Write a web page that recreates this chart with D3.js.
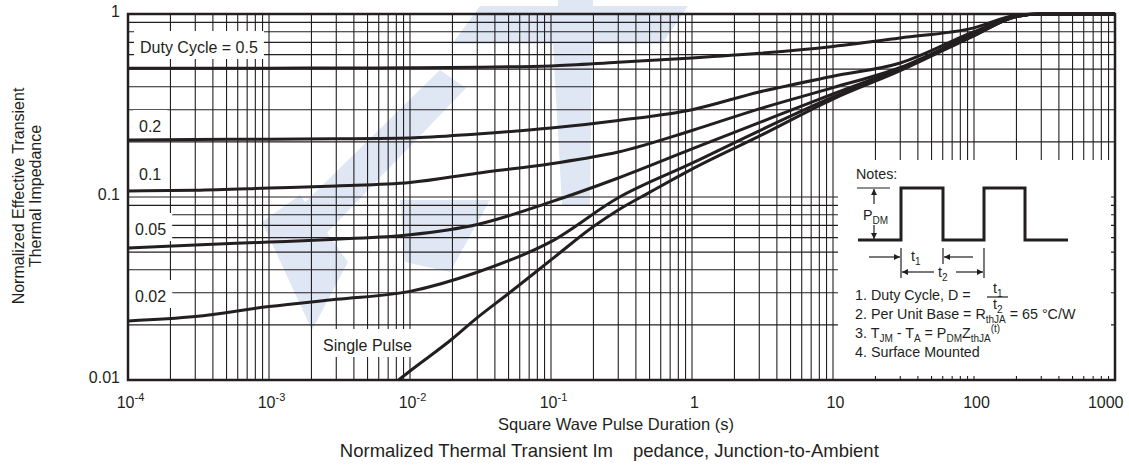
<!DOCTYPE html>
<html>
<head>
<meta charset="utf-8">
<script src="https://cdn.jsdelivr.net/npm/d3@7/dist/d3.min.js"></script>
<style>
  body { margin: 0; background: #fff; }
  svg { display: block; font-family: "Liberation Sans", Arial, sans-serif; }
</style>
</head>
<body>
<svg id="chart" width="1129" height="465"></svg>
<script>
// pulse duration (s) shared by the duty cycle curves
var pulseTimes = [1e-4, 3e-4, 1e-3, 3e-3, 1e-2, 3e-2, 0.1, 0.3, 1, 3, 10, 30, 100, 200, 300, 1000];
var duty05  = [0.505, 0.505, 0.506, 0.507, 0.508, 0.512, 0.52, 0.545, 0.575, 0.61, 0.665, 0.74, 0.84, 0.985, 1.0, 1.0];
var duty02  = [0.205, 0.206, 0.207, 0.208, 0.21, 0.221, 0.238, 0.262, 0.30, 0.375, 0.457, 0.54, 0.80, 0.975, 1.0, 1.0];
var duty01  = [0.108, 0.109, 0.112, 0.115, 0.12, 0.135, 0.152, 0.176, 0.231, 0.303, 0.396, 0.51, 0.78, 0.975, 1.0, 1.0];
var duty005 = [0.0526, 0.0547, 0.0567, 0.0588, 0.0622, 0.0708, 0.094, 0.127, 0.183, 0.255, 0.366, 0.505, 0.77, 0.97, 1.0, 1.0];
var duty002 = [0.021, 0.0222, 0.0252, 0.0276, 0.0305, 0.0388, 0.057, 0.099, 0.153, 0.23, 0.352, 0.50, 0.765, 0.97, 1.0, 1.0];

// single pulse starts at the bottom edge, so it has its own times
var singleTimes = [0.0083, 0.01, 0.02, 0.03, 0.05, 0.1, 0.2, 0.3, 0.5, 1, 3, 10, 30, 100, 200, 300, 1000];
var singlePulse = [0.01, 0.0112, 0.0168, 0.0219, 0.0297, 0.0453, 0.069, 0.085, 0.106, 0.142, 0.215, 0.343, 0.49, 0.76, 0.97, 1.0, 1.0];

var xTicks = [1e-4, 1e-3, 1e-2, 1e-1, 1, 10, 100, 1000];
var xTickBase = ["10", "10", "10", "10", "1", "10", "100", "1000"];
var xTickExp = ["-4", "-3", "-2", "-1", "", "", "", ""];
var yTicks = [0.01, 0.1, 1];
var yTickLabels = ["0.01", "0.1", "1"];

var ink = "#231f20";
var svg = d3.select("#chart");

var x = d3.scaleLog().domain([1e-4, 1000]).range([128, 1115]);
var y = d3.scaleLog().domain([0.01, 1]).range([380, 14]);

// faint logo watermark behind the grid
var watermark = [
  [[480,6],[558,6],[558,0],[593,0],[593,6],[688,6],[662,44],[452,44]],
  [[553,44],[592,44],[590,205],[562,205]],
  [[292,215],[440,70],[466,88],[322,238]],
  [[262,222],[300,195],[348,262],[312,330]],
  [[400,200],[490,200],[450,272],[405,262]]
];
svg.append("g").selectAll("polygon")
  .data(watermark)
  .enter().append("polygon")
  .attr("points", function(d) { return d.map(function(p) { return p.join(","); }).join(" "); })
  .attr("fill", "#dfe7f4");

// log grid
var gridX = [], gridY = [];
for (var e = -4; e < 3; e++) {
  for (var k = 1; k < 10; k++) gridX.push(k * Math.pow(10, e));
}
gridX.push(1000);
for (var e2 = -2; e2 < 0; e2++) {
  for (var k2 = 1; k2 < 10; k2++) gridY.push(k2 * Math.pow(10, e2));
}
gridY.push(1);

var grid = svg.append("g").attr("stroke", ink).attr("stroke-width", 1.1);
grid.selectAll("line.v").data(gridX).enter().append("line")
  .attr("class", "v")
  .attr("x1", function(d) { return x(d); }).attr("x2", function(d) { return x(d); })
  .attr("y1", 14).attr("y2", 380);
grid.selectAll("line.h").data(gridY).enter().append("line")
  .attr("class", "h")
  .attr("x1", 128).attr("x2", 1115)
  .attr("y1", function(d) { return y(d); }).attr("y2", function(d) { return y(d); });

// curve labels with white boxes that cut the grid
var curveLabels = [
  {text: "Duty Cycle = 0.5", x: 140, y: 53},
  {text: "0.2", x: 139, y: 132},
  {text: "0.1", x: 139, y: 180},
  {text: "0.05", x: 135, y: 235},
  {text: "0.02", x: 135, y: 302},
  {text: "Single Pulse", x: 323, y: 351}
];
var lab = svg.append("g");
curveLabels.forEach(function(d) {
  var g = lab.append("g");
  var t = g.append("text").attr("x", d.x).attr("y", d.y)
    .attr("font-size", 16).attr("fill", ink).text(d.text);
  var b = t.node().getBBox();
  g.insert("rect", "text")
    .attr("x", b.x - 6).attr("y", b.y - 8)
    .attr("width", b.width + 12).attr("height", b.height + 11)
    .attr("fill", "#fff");
});

// curves
var line = d3.line()
  .x(function(d) { return x(d[0]); })
  .y(function(d) { return y(d[1]); })
  .curve(d3.curveMonotoneX);

var series = [duty05, duty02, duty01, duty005, duty002];
var curves = svg.append("g").attr("fill", "none").attr("stroke", ink).attr("stroke-width", 3);
series.forEach(function(vals) {
  curves.append("path").attr("d", line(pulseTimes.map(function(t, i) { return [t, vals[i]]; })));
});
curves.append("path").attr("d", line(singleTimes.map(function(t, i) { return [t, singlePulse[i]]; })));

// notes box
var notes = svg.append("g");
notes.append("rect").attr("x", 838).attr("y", 160).attr("width", 273).attr("height", 216).attr("fill", "#fff");

var defs = svg.append("defs");
defs.append("marker").attr("id", "arr")
  .attr("viewBox", "0 0 10 10").attr("refX", 10).attr("refY", 5)
  .attr("markerWidth", 9).attr("markerHeight", 6).attr("markerUnits", "userSpaceOnUse")
  .attr("orient", "auto-start-reverse")
  .append("path").attr("d", "M0,0L10,5L0,10z").attr("fill", ink);

notes.append("path")
  .attr("d", "M858,240H901V188H943V240H984V188H1025V240H1068")
  .attr("fill", "none").attr("stroke", ink).attr("stroke-width", 3);

var thin = notes.append("g").attr("stroke", ink).attr("stroke-width", 1.2).attr("fill", "none");
thin.append("line").attr("x1", 857).attr("x2", 890).attr("y1", 188).attr("y2", 188);
thin.append("line").attr("x1", 874).attr("x2", 874).attr("y1", 204).attr("y2", 189).attr("marker-end", "url(#arr)");
thin.append("line").attr("x1", 874).attr("x2", 874).attr("y1", 225).attr("y2", 239).attr("marker-end", "url(#arr)");
thin.append("line").attr("x1", 901).attr("x2", 901).attr("y1", 248).attr("y2", 278);
thin.append("line").attr("x1", 943).attr("x2", 943).attr("y1", 248).attr("y2", 264);
thin.append("line").attr("x1", 984).attr("x2", 984).attr("y1", 248).attr("y2", 278);
thin.append("line").attr("x1", 869).attr("x2", 900).attr("y1", 257).attr("y2", 257).attr("marker-end", "url(#arr)");
thin.append("line").attr("x1", 973).attr("x2", 944).attr("y1", 257).attr("y2", 257).attr("marker-end", "url(#arr)");
thin.append("line").attr("x1", 934).attr("x2", 902).attr("y1", 272).attr("y2", 272).attr("marker-end", "url(#arr)");
thin.append("line").attr("x1", 956).attr("x2", 983).attr("y1", 272).attr("y2", 272).attr("marker-end", "url(#arr)");
thin.append("line").attr("x1", 987).attr("x2", 1008).attr("y1", 297).attr("y2", 297);

function richText(g, px, py, parts) {
  var t = g.append("text").attr("x", px).attr("y", py).attr("font-size", 14.3).attr("fill", ink);
  var shift = 0;
  parts.forEach(function(p) {
    var target = p[1] === "sub" ? 4 : (p[1] === "sup" ? -6 : 0);
    t.append("tspan")
      .attr("dy", target - shift)
      .attr("font-size", p[1] ? 10 : 14.3)
      .text(p[0]);
    shift = target;
  });
  return t;
}

richText(notes, 856, 179, [["Notes:"]]);
richText(notes, 863, 220, [["P"], ["DM", "sub"]]);
richText(notes, 911, 261, [["t"], ["1", "sub"]]);
richText(notes, 938, 277, [["t"], ["2", "sub"]]);
richText(notes, 993, 293, [["t"], ["1", "sub"]]);
richText(notes, 993, 309, [["t"], ["2", "sub"]]);
richText(notes, 855, 300, [["1. Duty Cycle, D ="]]);
richText(notes, 855, 319, [["2. Per Unit Base = R"], ["thJA", "sub"], [" = 65 \u00B0C/W"]]);
richText(notes, 855, 338, [["3. T"], ["JM", "sub"], [" - T"], ["A", "sub"], [" = P"], ["DM", "sub"], ["Z"], ["thJA", "sub"], ["(t)", "sup"]]);
richText(notes, 855, 357, [["4. Surface Mounted"]]);

// frame
svg.append("rect").attr("x", 128).attr("y", 14).attr("width", 987).attr("height", 366)
  .attr("fill", "none").attr("stroke", ink).attr("stroke-width", 2.5);

// x axis
var xAxis = svg.append("g").attr("transform", "translate(0,380)")
  .call(d3.axisBottom(x).tickValues(xTicks).tickSize(0).tickFormat(""));
xAxis.select(".domain").remove();
xAxis.selectAll(".tick text").remove();
xAxis.selectAll(".tick").each(function(d, i) {
  var t = d3.select(this).append("text")
    .attr("y", 28).attr("fill", ink).attr("font-size", 16)
    .attr("text-anchor", i === xTicks.length - 1 ? "end" : "middle")
    .attr("x", i === xTicks.length - 1 ? 8 : 2);
  t.append("tspan").text(xTickBase[i]);
  if (xTickExp[i]) t.append("tspan").attr("dy", -7).attr("font-size", 11).text(xTickExp[i]);
});

// y axis
var yAxis = svg.append("g").attr("transform", "translate(128,0)")
  .call(d3.axisLeft(y).tickValues(yTicks).tickSize(0).tickPadding(8)
    .tickFormat(function(d, i) { return yTickLabels[i]; }));
yAxis.select(".domain").remove();
yAxis.selectAll(".tick text").attr("font-size", 16).attr("fill", ink)
  .attr("font-family", "Liberation Sans, Arial, sans-serif").attr("dy", "0.15em");

// titles
svg.append("text").attr("x", 616).attr("y", 430).attr("text-anchor", "middle")
  .attr("font-size", 16.5).attr("fill", ink).text("Square Wave Pulse Duration (s)");

var yt = svg.append("text").attr("transform", "translate(0,196) rotate(-90)")
  .attr("text-anchor", "middle").attr("font-size", 16).attr("fill", ink);
yt.append("tspan").attr("x", 0).attr("y", 24).text("Normalized Effective Transient");
yt.append("tspan").attr("x", 0).attr("y", 41).text("Thermal Impedance");

svg.append("text").attr("x", 613).attr("y", 457).attr("text-anchor", "end")
  .attr("font-size", 18.5).attr("fill", ink).text("Normalized Thermal Transient Im");
svg.append("text").attr("x", 633).attr("y", 457)
  .attr("font-size", 18.5).attr("fill", ink).text("pedance, Junction-to-Ambient");
</script>
</body>
</html>
